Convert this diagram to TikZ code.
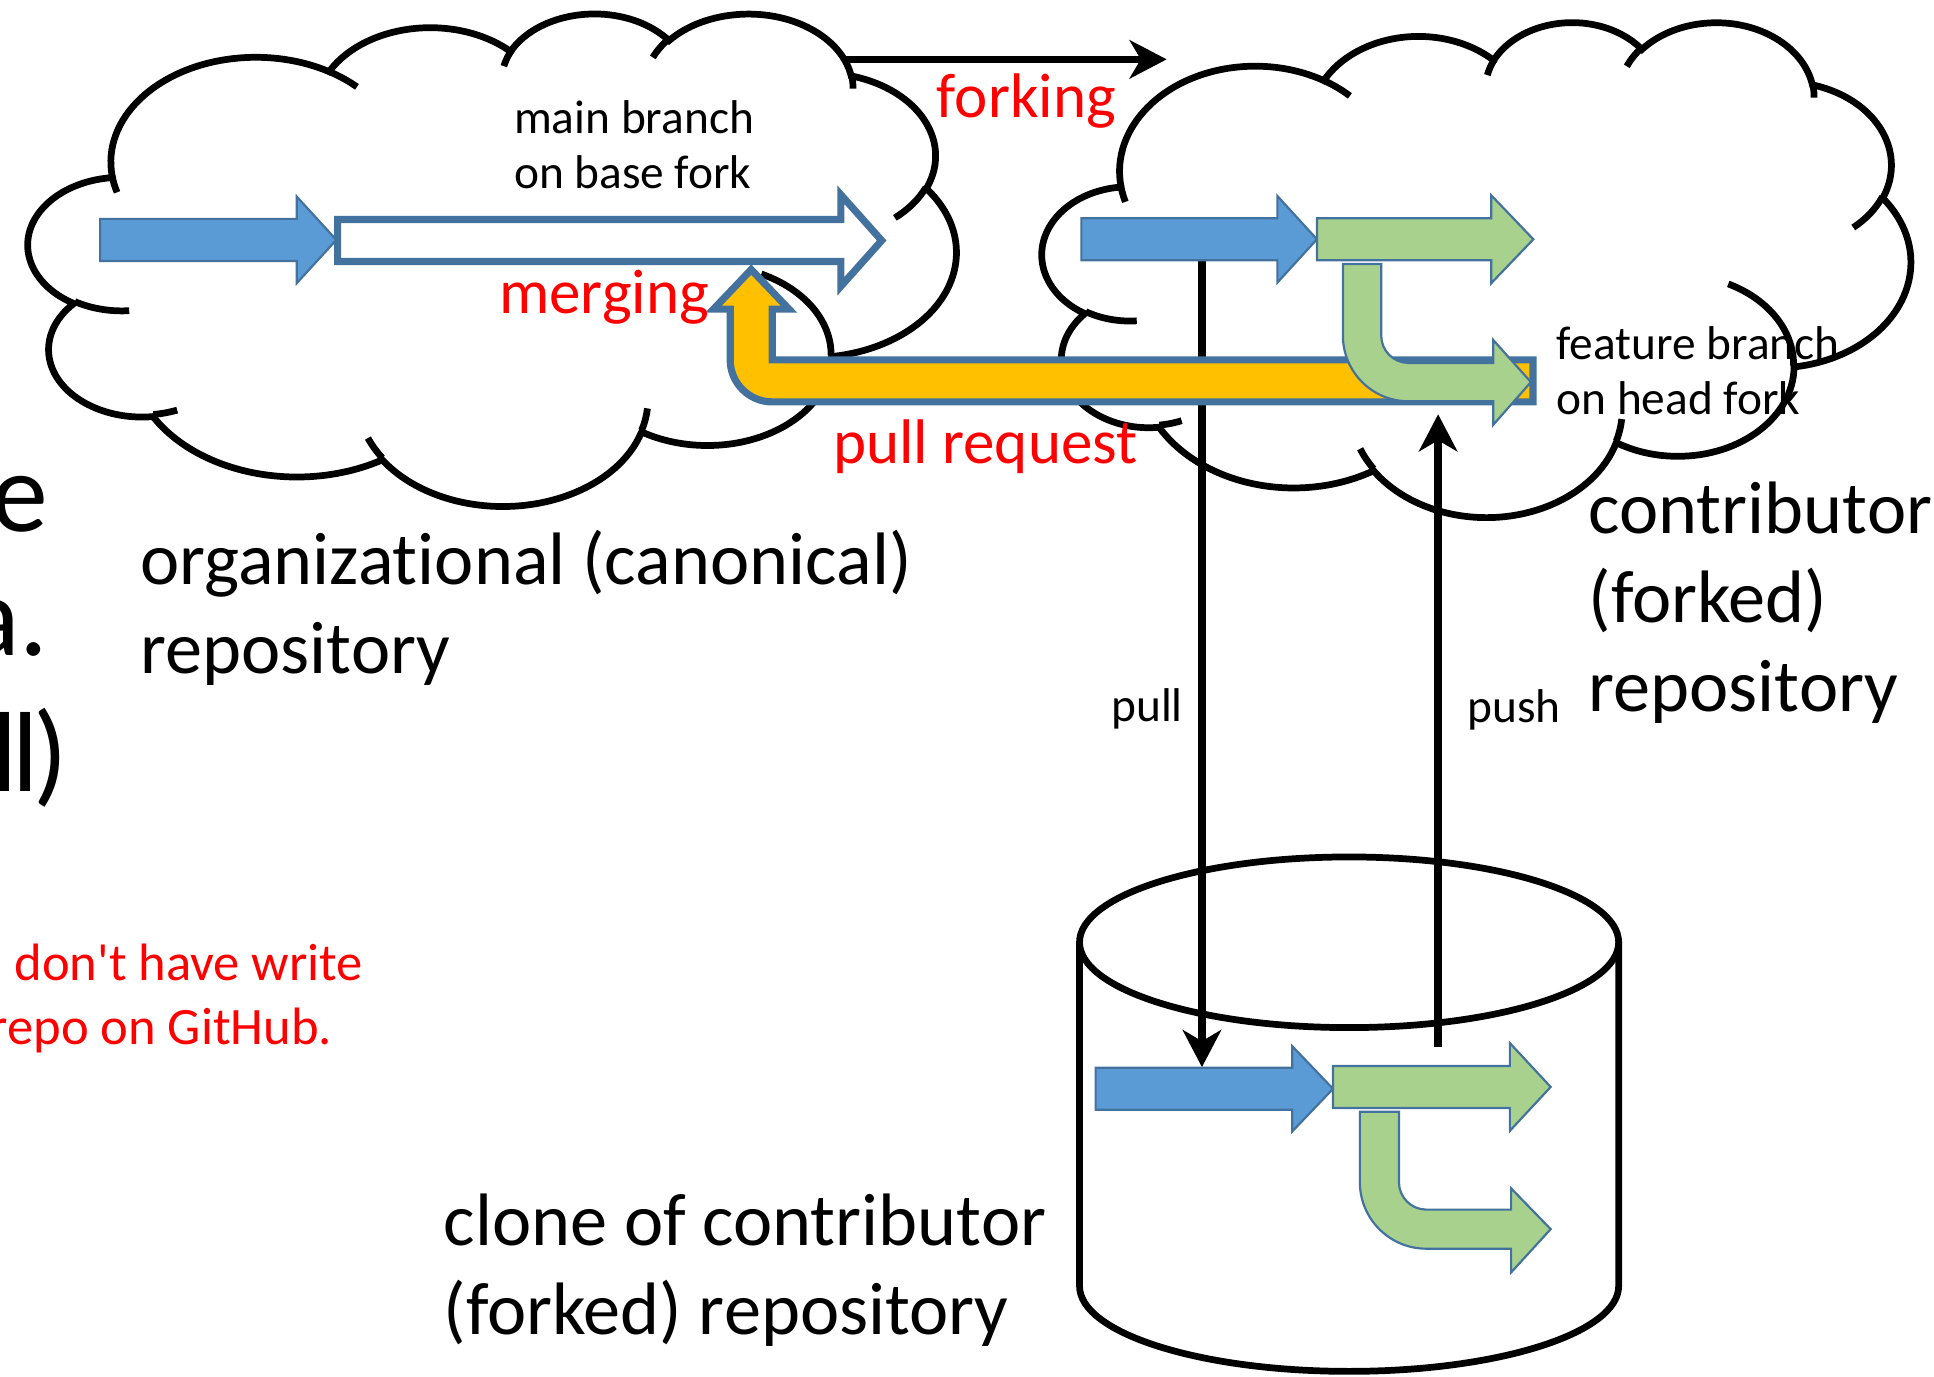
\documentclass[tikz,border=0pt]{standalone}
\usepackage{fontspec}
\setmainfont{Carlito}[Ligatures=NoCommon]
\usetikzlibrary{arrows.meta}
\definecolor{bluefill}{RGB}{91,155,213}
\definecolor{arrowline}{RGB}{68,114,158}
\definecolor{greenfill}{RGB}{169,209,142}
\definecolor{pryellow}{RGB}{255,192,0}

% straight block arrow: [style] x start, x head, x tip, y centre, half body, half head
\newcommand\blockarrow[7][]{%
  \draw[#1] (#2,#5+#6) -- (#3,#5+#6) -- (#3,#5+#7) -- (#4,#5)
    -- (#3,#5-#7) -- (#3,#5-#6) -- (#2,#5-#6) -- cycle;}

% cloud, shape box 432 x 432: left x, top y, x scale, y scale
\newcommand\repocloud[4]{%
  \draw[cloudline] (#1+39.00*#3,#2-143.70*#4)
    \foreach \rw/\rh/\sa/\sw [evaluate=\sa as \ta using {-atan2((\rw)*sin(\sa),(\rh)*cos(\sa))},
        evaluate=\sa as \tb using {-atan2((\rw)*sin((\sa)+(\sw)),(\rh)*cos((\sa)+(\sw)))},
        evaluate=\sa as \te using {(\tb)-360*round(((\tb)-(\ta)+(\sw))/360)}] in
      {67.53/91.90/-190.48748/123.78053, 53.33/72.67/-144.10238/89.94523,
       43.65/59.45/-145.80792/99.72302, 48.57/65.95/-130.98607/117.24173,
       53.33/72.73/-78.70888/109.02692, 67.75/92.20/-46.26725/130.26900,
       57.85/78.67/0.62502/114.03333, 67.52/92.15/22.45160/115.17255,
       77.20/105.43/66.24263/75.71102, 43.60/59.18/-274.94208/146.73557,
       43.45/59.45/-246.82850/152.51885}
      {arc[start angle=\ta, end angle=\te, x radius=\rw*#3, y radius=\rh*#4]} -- cycle;
  \draw[cloudline, fill=none]
    \foreach \px/\py/\rw/\rh/\sa/\sw [evaluate=\sa as \ta using {-atan2((\rw)*sin(\sa),(\rh)*cos(\sa))},
        evaluate=\sa as \tb using {-atan2((\rw)*sin((\sa)+(\sw)),(\rh)*cos((\sa)+(\sw)))},
        evaluate=\sa as \te using {(\tb)-360*round(((\tb)-(\ta)+(\sw))/360)}] in
      {46.93/261.77/43.45/59.45/86.74200/26.42950, 69.28/348.99/43.60/59.18/73.61047/11.44747,
       164.78/390.90/67.52/92.15/137.62415/14.08110, 288.27/347.51/67.52/92.15/6.45327/15.99835,
       341.29/229.54/57.85/78.67/-70.29235/70.91737, 417.98/153.54/53.33/72.73/30.31803/27.75150,
       383.24/54.26/48.57/65.95/-13.74433/14.85890, 290.78/39.52/48.57/65.95/-149.18145/18.19537,
       221.41/47.20/43.65/59.45/-163.49427/17.68635, 140.00/51.92/67.53/91.90/-66.70695/12.31935,
       41.27/157.89/67.53/91.90/157.65435/11.85817}
      {(#1+\px*#3,#2-\py*#4) arc[start angle=\ta, end angle=\te, x radius=\rw*#3, y radius=\rh*#4]};}

\begin{document}
\begin{tikzpicture}[
  cloudline/.style={line width=1.55pt, fill=white},
  cylline/.style={line width=1.55pt},
  link/.style={line width=1.7pt, -{Stealth[length=3mm, width=3.1mm, inset=0.9mm]}},
  bluearrow/.style={fill=bluefill, draw=arrowline, line width=0.5pt},
  greenarrow/.style={fill=greenfill, draw=arrowline, line width=0.5pt},
  mainarrow/.style={fill=white, draw=arrowline, line width=1.65pt},
  prarrow/.style={fill=pryellow, draw=arrowline, line width=1.65pt},
  redlabel/.style={text=red, font=\fontsize{14.5}{17}\selectfont, inner sep=0pt, anchor=base west},
  smalllabel/.style={font=\fontsize{10.9}{12.66}\selectfont, inner sep=0pt, anchor=base west, align=left},
  repolabel/.style={font=\fontsize{17.1}{20.5}\selectfont, inner sep=0pt, anchor=base west, align=left},
  notelabel/.style={text=red, font=\fontsize{12.1}{15.1}\selectfont, inner sep=0pt, anchor=base west},
  edgelabel/.style={font=\fontsize{26.2}{28.5}\selectfont, inner sep=0pt, anchor=base east}]
\useasboundingbox (0,0) rectangle (15.64,11.13);

% clouds
\repocloud{0.23}{11.03}{0.017361}{0.009213}
\repocloud{8.43}{10.96}{0.016250}{0.0092593}

% local clone
\fill[white] (8.73,3.51) -- (8.73,0.73) arc[start angle=180, end angle=360, x radius=2.18, y radius=0.69] -- (13.09,3.51) -- cycle;
\draw[cylline] (8.73,3.51) -- (8.73,0.73) arc[start angle=180, end angle=360, x radius=2.18, y radius=0.69] -- (13.09,3.51);
\draw[cylline] (10.91,3.51) ellipse[x radius=2.18, y radius=0.69];

% connectors
\coordinate (forkstart) at (6.83,10.65);
\coordinate (forkend) at (9.435,10.65);
\coordinate (pullstart) at (9.72,9.03);
\coordinate (pullend) at (9.72,2.50);
\coordinate (pushstart) at (11.63,2.66);
\coordinate (pushend) at (11.63,7.78);
\draw[link] (forkstart) -- (forkend);
\draw[link] (pullstart) -- (pullend);
\draw[link] (pushstart) -- (pushend);

% branches
\blockarrow[bluearrow]{0.81}{2.40}{2.72}{9.19}{0.17}{0.35}
\blockarrow[mainarrow]{2.73}{6.80}{7.13}{9.185}{0.17}{0.37}
\draw[prarrow] (12.397,8.22) -- (6.245,8.22) -- (6.245,8.63) -- (6.38,8.63) -- (6.075,8.95)
  -- (5.77,8.63) -- (5.905,8.63) -- (5.905,8.22) arc[start angle=180, end angle=270, radius=0.34]
  -- (12.397,7.88) -- cycle;
\blockarrow[bluearrow]{8.745}{10.33}{10.65}{9.195}{0.17}{0.35}
\blockarrow[greenarrow]{10.65}{12.06}{12.40}{9.195}{0.17}{0.355}
\draw[greenarrow] (10.86,8.995) -- (11.17,8.995) -- (11.17,8.415) arc[start angle=180, end angle=270, radius=0.22]
  -- (12.076,8.195) -- (12.076,8.38) -- (12.38,8.04) -- (12.076,7.695) -- (12.076,7.885)
  -- (11.39,7.885) arc[start angle=270, end angle=180, radius=0.53] -- cycle;
\blockarrow[bluearrow]{8.86}{10.45}{10.78}{2.325}{0.17}{0.345}
\blockarrow[greenarrow]{10.78}{12.21}{12.54}{2.34}{0.17}{0.355}
\draw[greenarrow] (10.997,2.14) -- (11.313,2.14) -- (11.313,1.57) arc[start angle=180, end angle=270, radius=0.222]
  -- (12.22,1.348) -- (12.22,1.52) -- (12.54,1.19) -- (12.22,0.84) -- (12.22,1.032)
  -- (11.535,1.032) arc[start angle=270, end angle=180, radius=0.538] -- cycle;

% labels
\node[redlabel] (forking) at (7.57,10.18) {forking};
\node[redlabel] (merging) at (4.03,8.595) {merging};
\node[redlabel] (pullreq) at (6.73,7.38) {pull request};
\node[smalllabel] (mainbranch) at (4.15,9.605) {main branch\\on base fork};
\node[smalllabel] (featbranch) at (12.58,7.78) {feature branch\\on head fork};
\node[smalllabel] (pulllabel) at (8.98,5.293) {pull};
\node[smalllabel] (pushlabel) at (11.86,5.286) {push};
\node[repolabel] (orglabel) at (1.13,5.68) {organizational (canonical)\\repository};
\node[repolabel] (contriblabel) at (12.84,5.375) {contributor\\(forked)\\repository};
\node[repolabel] (clonelabel) at (3.58,0.34) {clone of contributor\\(forked) repository};
\node[notelabel] (notea) at (0.11,3.20) {don\textquotesingle t have write};
\node[notelabel] (noteb) at (-0.09,2.68) {repo on GitHub.};
\node[edgelabel] (cuta) at (0.40,6.83) {e};
\node[edgelabel] (cutb) at (0.40,5.83) {a.};
\node[edgelabel] (cutc) at (0.56,4.73) {l\kern-1.1pt l\kern-1.1pt)};
\end{tikzpicture}
\end{document}
